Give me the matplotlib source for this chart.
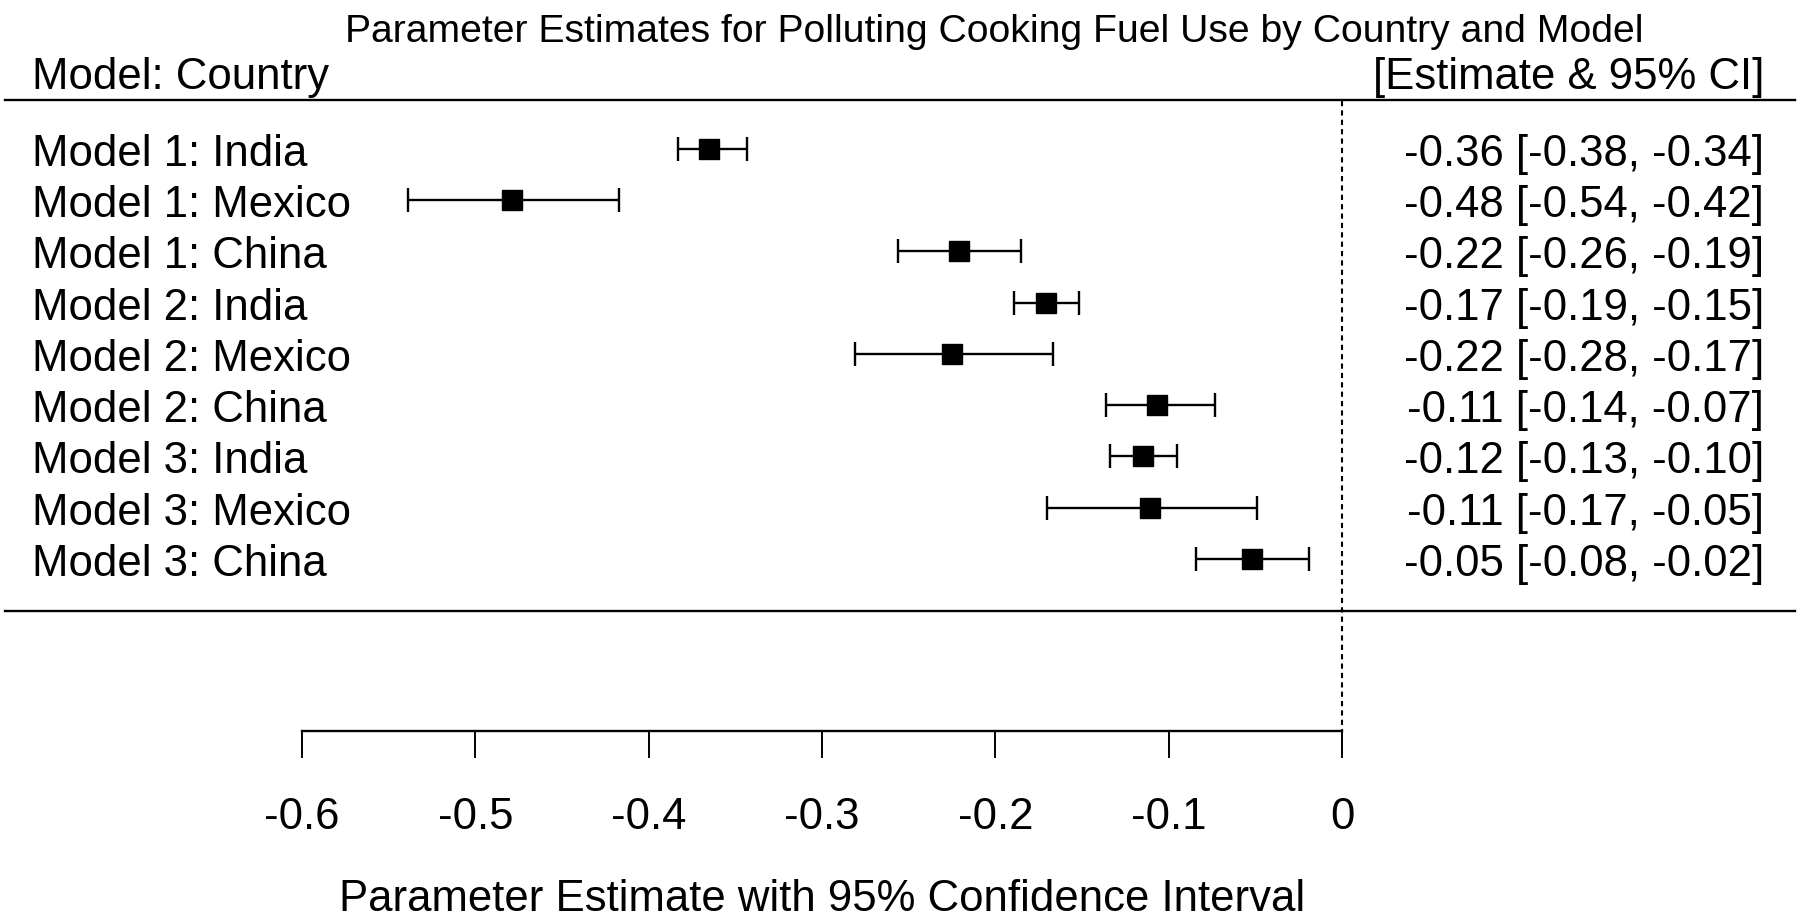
import matplotlib
matplotlib.use("Agg")
import matplotlib.pyplot as plt
import numpy as np

plt.rcParams['font.family'] = ['Liberation Sans', 'DejaVu Sans']

labels = ['Model 1: India', 'Model 1: Mexico', 'Model 1: China',
          'Model 2: India', 'Model 2: Mexico', 'Model 2: China',
          'Model 3: India', 'Model 3: Mexico', 'Model 3: China']
est = [-0.365, -0.479, -0.221, -0.171, -0.225, -0.107, -0.115, -0.111, -0.052]
lower = [-0.383, -0.539, -0.256, -0.189, -0.281, -0.136, -0.134, -0.170, -0.084]
upper = [-0.343, -0.417, -0.185, -0.152, -0.167, -0.073, -0.095, -0.049, -0.019]
ci_text = ['-0.36 [-0.38, -0.34]', '-0.48 [-0.54, -0.42]', '-0.22 [-0.26, -0.19]',
           '-0.17 [-0.19, -0.15]', '-0.22 [-0.28, -0.17]', '-0.11 [-0.14, -0.07]',
           '-0.12 [-0.13, -0.10]', '-0.11 [-0.17, -0.05]', '-0.05 [-0.08, -0.02]']
ticks = [-0.6, -0.5, -0.4, -0.3, -0.2, -0.1, 0]
tick_labels = ['-0.6', '-0.5', '-0.4', '-0.3', '-0.2', '-0.1', '0']

W, H = 1800, 918
row0, step = 149, 51.25      # pixel position of first row, row spacing
px_per_unit = 1733.3         # pixels per 1.0 on the x scale
x0_px = 1342                 # pixel of x = 0


def ypx(p):
    return (p - row0) / step


def xpx(p):
    return (p - x0_px) / px_per_unit


fig = plt.figure(figsize=(W / 100, H / 100), dpi=100)
ax = fig.add_axes([0, 0, 1, 1])
ax.set_xlim(xpx(0), xpx(W))
ax.set_ylim(ypx(H), ypx(0))
ax.axis('off')

fs = 31.5
y = np.arange(len(labels))

# intervals and estimates
ax.errorbar(est, y, xerr=[np.array(est) - np.array(lower), np.array(upper) - np.array(est)],
            fmt='none', ecolor='black', elinewidth=1.7, capsize=8.5, capthick=1.7)
ax.plot(est, y, 's', color='black', markersize=14.5, linestyle='none')

# reference line at zero
ax.plot([0, 0], [ypx(101), ypx(731)], color='black', lw=1.5, linestyle=(0, (2.5, 2)))

# header / footer rules
ax.plot([xpx(5), xpx(1795)], [ypx(100), ypx(100)], color='black', lw=1.7)
ax.plot([xpx(5), xpx(1795)], [ypx(611), ypx(611)], color='black', lw=1.7)

# row labels and CI text
for i in range(len(labels)):
    ax.text(xpx(32), i + 17 / step, labels[i], fontsize=fs, ha='left', va='baseline')
    ax.text(xpx(1764), i + 17 / step, ci_text[i], fontsize=fs, ha='right', va='baseline')

# x axis drawn by hand (R style)
ax.plot([ticks[0], ticks[-1]], [ypx(731), ypx(731)], color='black', lw=1.7)
for t, tl in zip(ticks, tick_labels):
    ax.plot([t, t], [ypx(731), ypx(757)], color='black', lw=1.4)
    ax.text(t, ypx(829), tl, fontsize=fs, ha='center', va='baseline')

ax.text(np.mean([ticks[0], ticks[-1]]), ypx(911), 'Parameter Estimate with 95% Confidence Interval',
        fontsize=fs, ha='center', va='baseline')

ax.text(xpx(994), ypx(42), 'Parameter Estimates for Polluting Cooking Fuel Use by Country and Model',
        fontsize=28.2, ha='center', va='baseline')
ax.text(xpx(32), ypx(89), 'Model: Country', fontsize=fs, ha='left', va='baseline')
ax.text(xpx(1764), ypx(89), '[Estimate & 95% CI]', fontsize=fs, ha='right', va='baseline')

fig.savefig('out.png', dpi=100)
